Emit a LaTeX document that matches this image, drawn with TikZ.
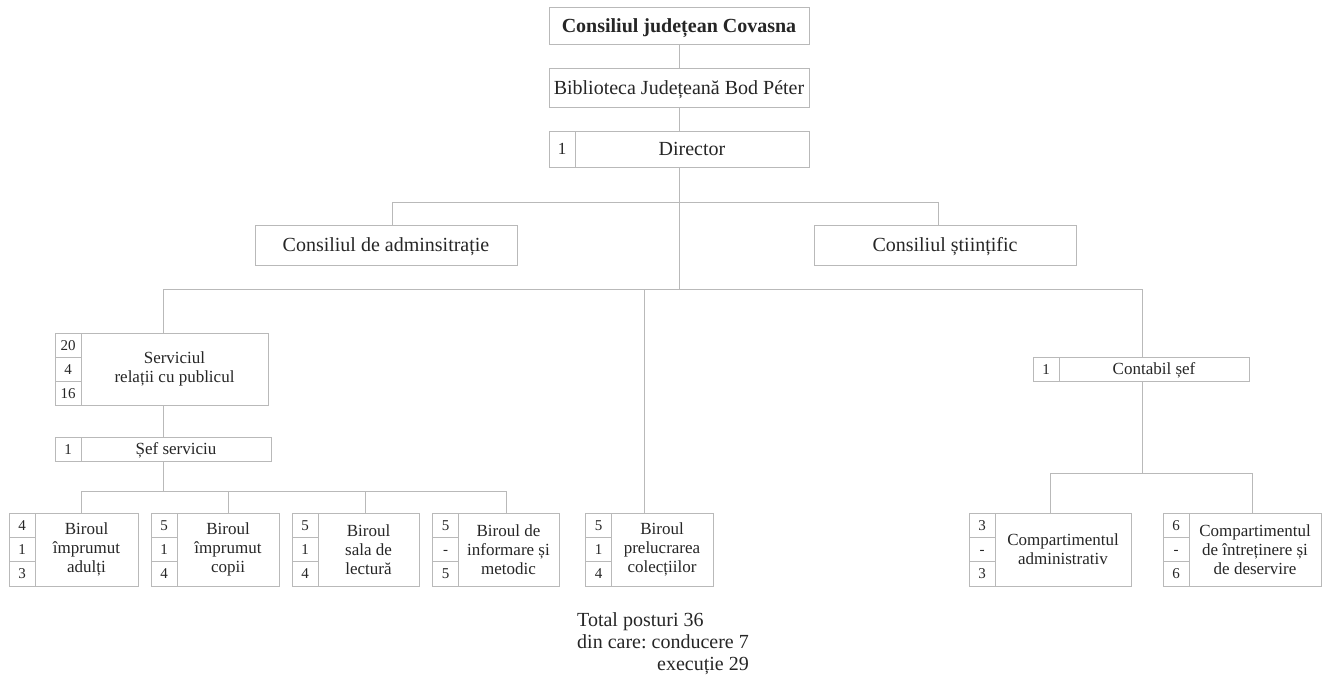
\documentclass[tikz,border=0pt]{standalone}
\usepackage{fontspec}
\setmainfont{Liberation Serif}
\begin{document}
\frenchspacing
\begin{tikzpicture}[x=1pt,y=-1pt,
  box/.style={draw=gray!55,line width=0.9pt,fill=white,inner sep=0pt,align=center,text=black!85,font=\fontsize{17}{19}\selectfont},
  oneline/.style={text height=11.5pt,text depth=0pt},
  bigbox/.style={box,text height=13.5pt,text depth=0pt,font=\fontsize{20}{22}\selectfont},
  numbox/.style={box,text height=10pt,text depth=0pt,minimum width=26pt,minimum height=24.33pt,font=\fontsize{15}{17}\selectfont},
  link/.style={draw=gray!55,line width=0.9pt}]
    \useasboundingbox (0,0) rectangle (1322,694);
    \node [bigbox,font=\fontsize{20}{22}\selectfont\bfseries,minimum width=260pt,minimum height=37pt] (0) at (679,25.5) {Consiliul județean Covasna};
	\node [bigbox,minimum width=260pt,minimum height=39pt] (1) at (679,87.5) {Biblioteca Județeană Bod Péter};
	\node [numbox,minimum height=36pt,text height=11.5pt,font=\fontsize{17}{19}\selectfont] (2) at (562,149) {1};
	\node [bigbox,minimum width=234pt,minimum height=36pt] (3) at (692,149) {Director};
	\node [bigbox,minimum width=262pt,minimum height=40pt] (4) at (386,245) {Consiliul de adminsitrație};
	\node [bigbox,minimum width=262pt,minimum height=40pt] (5) at (945,245) {Consiliul științific};
	\node [numbox,minimum height=24pt] (6) at (68,345) {20};
	\node [numbox,minimum height=24pt] (7) at (68,369) {4};
	\node [numbox,minimum height=24pt] (8) at (68,393) {16};
	\node [box,minimum width=187pt,minimum height=72pt] (9) at (174.5,369) {Serviciul\\relații cu publicul};
	\node [numbox,minimum height=24pt] (10) at (68,449) {1};
	\node [box,oneline,minimum width=190pt,minimum height=24pt] (11) at (176,449) {Șef serviciu};
	\node [numbox] (12) at (22,525.2) {4};
	\node [numbox] (13) at (22,549.5) {1};
	\node [numbox] (14) at (22,573.8) {3};
	\node [box,minimum width=103pt,minimum height=73pt] (15) at (86.5,549.5) {Biroul\\împrumut\\adulți};
	\node [numbox] (16) at (164,525.2) {5};
	\node [numbox] (17) at (164,549.5) {1};
	\node [numbox] (18) at (164,573.8) {4};
	\node [box,minimum width=102pt,minimum height=73pt] (19) at (228,549.5) {Biroul\\împrumut\\copii};
	\node [numbox] (20) at (305,525.2) {5};
	\node [numbox] (21) at (305,549.5) {1};
	\node [numbox] (22) at (305,573.8) {4};
	\node [box,minimum width=101pt,minimum height=73pt] (23) at (368.5,549.5) {Biroul\\sala de\\lectură};
	\node [numbox] (24) at (445.5,525.2) {5};
	\node [numbox] (25) at (445.5,549.5) {-};
	\node [numbox] (26) at (445.5,573.8) {5};
	\node [box,minimum width=101pt,minimum height=73pt] (27) at (508.5,549.5) {Biroul de\\informare și\\metodic};
	\node [numbox] (28) at (598.5,525.2) {5};
	\node [numbox] (29) at (598.5,549.5) {1};
	\node [numbox] (30) at (598.5,573.8) {4};
	\node [box,minimum width=102pt,minimum height=73pt] (31) at (662,549.5) {Biroul\\prelucrarea\\colecțiilor};
	\node [numbox,minimum height=24pt] (32) at (1046,369) {1};
	\node [box,oneline,minimum width=190pt,minimum height=24pt] (33) at (1154,369) {Contabil șef};
	\node [numbox] (34) at (982,525.2) {3};
	\node [numbox] (35) at (982,549.5) {-};
	\node [numbox] (36) at (982,573.8) {3};
	\node [box,minimum width=136pt,minimum height=73pt] (37) at (1063,549.5) {Compartimentul\\administrativ};
	\node [numbox] (38) at (1176,525.2) {6};
	\node [numbox] (39) at (1176,549.5) {-};
	\node [numbox] (40) at (1176,573.8) {6};
	\node [box,minimum width=132pt,minimum height=73pt] (41) at (1255,549.5) {Compartimentul\\de întreținere și\\de deservire};
	\node [anchor=north west,inner sep=0pt,text=black!85,font=\fontsize{20}{22}\selectfont] (42) at (577,611) {\begin{tabular}{@{}l@{}}Total posturi 36\\din care: conducere 7\\\hfill execuție 29\end{tabular}};
	% bus points
	\coordinate (50) at (679,289);
	\coordinate (51) at (392,202);
	\coordinate (52) at (938,202);
	\coordinate (53) at (163,289);
	\coordinate (54) at (1142,289);
	\coordinate (55) at (644,289);
	\coordinate (56) at (81,491);
	\coordinate (57) at (228,491);
	\coordinate (58) at (365,491);
	\coordinate (59) at (506,491);
	\coordinate (60) at (1050,473);
	\coordinate (61) at (1252,473);
	% edges
	\draw [link] (0) to (1);
	\draw [link] (1) to (1 |- 3.north);
	\draw [link] (1 |- 3.south) to (50);
	\draw [link] (51) to (52);
	\draw [link] (51) to (51 |- 4.north);
	\draw [link] (52) to (52 |- 5.north);
	\draw [link] (53) to (54);
	\draw [link] (53) to (53 |- 9.north);
	\draw [link] (53 |- 9.south) to (53 |- 11.north);
	\draw [link] (53 |- 11.south) to (53 |- 56);
	\draw [link] (56) to (59);
	\draw [link] (56) to (56 |- 15.north);
	\draw [link] (57) to (57 |- 19.north);
	\draw [link] (58) to (58 |- 23.north);
	\draw [link] (59) to (59 |- 27.north);
	\draw [link] (55) to (55 |- 31.north);
	\draw [link] (54) to (54 |- 33.north);
	\draw [link] (54 |- 33.south) to (54 |- 60);
	\draw [link] (60) to (61);
	\draw [link] (60) to (60 |- 37.north);
	\draw [link] (61) to (61 |- 41.north);
\end{tikzpicture}
\end{document}
